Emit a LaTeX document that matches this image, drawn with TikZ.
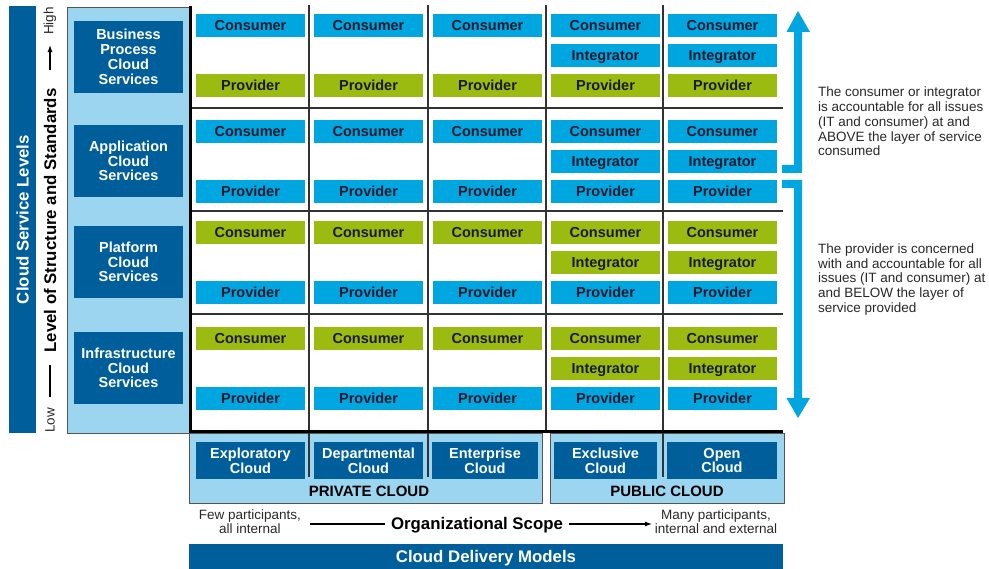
\documentclass[tikz,border=0pt]{standalone}
\usepackage{fontspec}
\setmainfont{Liberation Sans}
\usetikzlibrary{arrows.meta}
\definecolor{dblue}{RGB}{0,94,154}
\definecolor{lblue}{RGB}{155,213,240}
\definecolor{cy}{RGB}{0,166,224}
\definecolor{gr}{RGB}{155,187,16}
\definecolor{txtdark}{RGB}{26,26,46}
\definecolor{txtgray}{RGB}{40,40,40}
\definecolor{gridgray}{RGB}{50,50,50}
\definecolor{panelgray}{RGB}{85,85,85}
\begin{document}
\begin{tikzpicture}[x=1pt,y=-1pt,
  cellbox/.style={minimum width=109pt, minimum height=23pt, inner sep=0pt, text=txtdark,
    text height=10.4pt, text depth=0pt, font=\bfseries\fontsize{14.5}{15}\selectfont},
  svcbox/.style={fill=dblue, text=white, minimum width=109pt, minimum height=72pt, inner sep=0pt,
    align=center, font=\bfseries\fontsize{14.5}{14.8}\selectfont},
  modelbox/.style={fill=dblue, text=white, minimum height=37pt, inner sep=0pt,
    align=center, font=\bfseries\fontsize{14.5}{14.8}\selectfont},
  gridline/.style={draw=gridgray, line width=1.2pt},
  heavyline/.style={draw=black, line width=3pt},
  panel/.style={fill=lblue, draw=panelgray, line width=0.9pt},
  note/.style={inner sep=0pt, text=txtgray, font=\fontsize{13.5}{14.7}\selectfont},
  bigbold/.style={font=\bfseries\fontsize{16.8}{18}\selectfont},
  arrowfill/.style={fill=cy}
]
\useasboundingbox (0,0) rectangle (989,569);

% left vertical title bar
\node[fill=dblue, rotate=90, minimum width=427pt, minimum height=27pt, inner sep=0pt,
  text=white, bigbold] (csl) at (22.5,219.5) {Cloud Service Levels};

% level axis
\node[rotate=90, inner sep=0pt, bigbold, text=black] (level) at (50,220.5) {Level of Structure and Standards};
\node[rotate=90, inner sep=0pt, text=txtgray, font=\fontsize{13.5}{14}\selectfont] (high) at (50,21) {High};
\node[rotate=90, inner sep=0pt, text=txtgray, font=\fontsize{13.5}{14}\selectfont] (low) at (50,420.5) {Low};
\draw[line width=1.1pt, -{Latex[length=7pt,width=5pt]}, shorten <=18pt, shorten >=10pt] (level.east) -- (high.west);
\draw[line width=1.1pt, shorten <=12pt, shorten >=11pt] (level.west) -- (low.east);

% left light panel
\draw[panel] (67,7) rectangle (189,433);
\node[svcbox] (bpcs) at (128.5,57) {Business\\Process\\Cloud\\Services};
\node[svcbox] (acs) at (128.5,161) {Application\\Cloud\\Services};
\node[svcbox] (pcs) at (128.5,262) {Platform\\Cloud\\Services};
\node[svcbox] (ics) at (128.5,368) {Infrastructure\\Cloud\\Services};

% bottom panels
\draw[panel] (189,433) rectangle (542,503);
\draw[panel] (550,433) rectangle (784,503);

% grid lines
\draw[gridline] (309,5) -- (309,477);
\draw[gridline] (428,5) -- (428,477);
\draw[gridline] (546,5) -- (546,432);
\draw[gridline] (663,5) -- (663,477);
\draw[gridline] (190,108) -- (783,108);
\draw[gridline] (190,211) -- (783,211);
\draw[gridline] (190,314) -- (783,314);
\draw[heavyline] (190,6) -- (190,432) -- (783,432);

% cells
\foreach \r/\ty/\cc/\ic/\pc in {1/14/cy/cy/gr, 2/120/cy/cy/cy, 3/221/gr/gr/cy, 4/327/gr/gr/cy} {
  \foreach \c/\cx in {1/250.5,2/368.5,3/487.5,4/605.5,5/722.5} {
    \node[cellbox, fill=\cc] (con\r\c) at (\cx,\ty+11.5) {Consumer};
    \node[cellbox, fill=\pc] (pro\r\c) at (\cx,\ty+71.5) {Provider};
  }
  \foreach \c/\cx in {4/605.5,5/722.5} {
    \node[cellbox, fill=\ic] (int\r\c) at (\cx,\ty+41.5) {Integrator};
  }
}

% delivery model boxes
\node[modelbox, minimum width=109pt] (expl) at (250.5,460.5) {Exploratory\\Cloud};
\node[modelbox, minimum width=109pt] (dept) at (368.5,460.5) {Departmental\\Cloud};
\node[modelbox, minimum width=106pt] (ent) at (485,460.5) {Enterprise\\Cloud};
\node[modelbox, minimum width=103pt] (excl) at (605.5,460.5) {Exclusive\\Cloud};
\node[modelbox, minimum width=110pt] (open) at (722,460.5) {Open\\Cloud};
\node[inner sep=0pt, text=black, font=\bfseries\fontsize{15}{16}\selectfont] (priv) at (369,491) {PRIVATE CLOUD};
\node[inner sep=0pt, text=black, font=\bfseries\fontsize{15}{16}\selectfont] (pub) at (667,491) {PUBLIC CLOUD};

% right brackets
\fill[arrowfill] (782,173) -- (802,173) -- (802,32) -- (810,32) -- (798,11) -- (786.5,32) -- (794,32) -- (794,165) -- (782,165) -- cycle;
\fill[arrowfill] (782,180) -- (802,180) -- (802,398) -- (810,398) -- (798,418) -- (786.5,398) -- (794,398) -- (794,188) -- (782,188) -- cycle;

\node[note, anchor=north west, align=left] (acc1) at (818,87) {The consumer or integrator\\is accountable for all issues\\(IT and consumer) at and\\ABOVE the layer of service\\consumed};
\node[note, anchor=north west, align=left] (acc2) at (818,243.5) {The provider is concerned\\with and accountable for all\\issues (IT and consumer) at\\and BELOW the layer of\\service provided};

% organizational scope
\node[note, align=center, font=\fontsize{13.5}{14}\selectfont] (few) at (250,521.5) {Few participants,\\all internal};
\node[note, align=center, font=\fontsize{13.5}{14}\selectfont] (many) at (716,521.5) {Many participants,\\internal and external};
\node[inner xsep=6pt, inner ysep=0pt, text=black, bigbold] (org) at (477,525) {Organizational Scope};
\coordinate (oL) at (310,524);
\coordinate (oR) at (652,524);
\draw[line width=1.1pt] (oL) -- (oL -| org.west);
\draw[line width=1.1pt, -{Latex[length=7pt,width=5pt]}] (oR -| org.east) -- (oR);

% delivery models bar
\node[fill=dblue, minimum width=594pt, minimum height=25pt, inner sep=0pt, text=white, bigbold,
  text height=12.2pt, text depth=0pt] (cdm) at (486,556.5) {Cloud Delivery Models};
\end{tikzpicture}
\end{document}
